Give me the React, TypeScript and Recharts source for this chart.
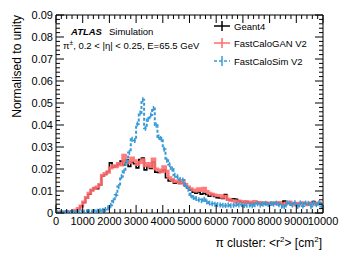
import React from "react";
import { ComposedChart, Line, XAxis, YAxis } from "recharts";

const FONT = "'Liberation Sans', Arial, Helvetica, sans-serif";
const BLACK = "#000000";
const RED = "#ff6b6b";
const BLUE = "#3a9ad6";

// bin centres, 100 bins of 100 cm^2 from 0 to 10000
const binCentres = Array.from({ length: 100 }, (_, i) => i * 100 + 50);

// Geant4
const geant4 = [
  0.0002, 0.0003, 0.0003, 0.0004, 0.0004, 0.0005, 0.0006, 0.0009, 0.0016, 0.003,
  0.0048, 0.0068, 0.0085, 0.0103, 0.0115, 0.011, 0.0128, 0.0168, 0.0175, 0.0188,
  0.0228, 0.0208, 0.0215, 0.0222, 0.0236, 0.0218, 0.0242, 0.0212, 0.0232, 0.0224,
  0.0205, 0.0243, 0.025, 0.0196, 0.0212, 0.0202, 0.0232, 0.0186, 0.0184, 0.019,
  0.0196, 0.016, 0.0146, 0.015, 0.0136, 0.014, 0.0134, 0.0135, 0.0124, 0.0114,
  0.0104, 0.0095, 0.009, 0.0094, 0.0086, 0.009, 0.0084, 0.0076, 0.0084, 0.0075,
  0.007, 0.0068, 0.0066, 0.0084, 0.006, 0.0058, 0.0064, 0.0062, 0.0055, 0.005,
  0.0048, 0.0052, 0.0046, 0.0048, 0.0044, 0.0047, 0.0043, 0.0046, 0.0045, 0.0042,
  0.0044, 0.0048, 0.0042, 0.0045, 0.004, 0.0054, 0.0044, 0.0046, 0.0042, 0.0045,
  0.0041, 0.0044, 0.0046, 0.0042, 0.004, 0.0044, 0.0052, 0.0045, 0.0042, 0.0046,
];

// FastCaloGAN V2
const fastCaloGan = [
  0.0002, 0.0003, 0.0003, 0.0004, 0.0005, 0.0006, 0.0008, 0.0012, 0.002, 0.0032,
  0.005, 0.007, 0.009, 0.0105, 0.0112, 0.0118, 0.013, 0.0172, 0.018, 0.0185,
  0.0205, 0.0215, 0.021, 0.0225, 0.0218, 0.0262, 0.0235, 0.0228, 0.025, 0.0238,
  0.022, 0.023, 0.0242, 0.0215, 0.0225, 0.021, 0.0246, 0.02, 0.0195, 0.0188,
  0.021, 0.019, 0.016, 0.0152, 0.0142, 0.0145, 0.0138, 0.0148, 0.013, 0.0118,
  0.011, 0.0105, 0.01, 0.011, 0.0102, 0.0112, 0.0098, 0.009, 0.0085, 0.0082,
  0.008, 0.0078, 0.0072, 0.0076, 0.0062, 0.0058, 0.0056, 0.005, 0.0055, 0.005,
  0.0052, 0.0048, 0.005, 0.0046, 0.0052, 0.0045, 0.0048, 0.0042, 0.0047, 0.0044,
  0.004, 0.0046, 0.0043, 0.0048, 0.0042, 0.0038, 0.0045, 0.005, 0.0042, 0.0036,
  0.0044, 0.004, 0.0047, 0.0042, 0.0038, 0.0045, 0.004, 0.0046, 0.0043, 0.0045,
];

// FastCaloSim V2
const fastCaloSim = [
  0.0001, 0.0001, 0.0001, 0.0002, 0.0002, 0.0002, 0.0003, 0.0003, 0.0003, 0.0004,
  0.0004, 0.0005, 0.0005, 0.0006, 0.0007, 0.0008, 0.001, 0.0012, 0.0016, 0.0024,
  0.0035, 0.0055, 0.0082, 0.012, 0.0165, 0.019, 0.0235, 0.0275, 0.0335, 0.033,
  0.0405, 0.0455, 0.0515, 0.0385, 0.0425, 0.0445, 0.0475, 0.04, 0.0345, 0.0335,
  0.029, 0.024, 0.022, 0.02, 0.0172, 0.0165, 0.0152, 0.015, 0.0128, 0.0108,
  0.0082, 0.007, 0.0066, 0.006, 0.0056, 0.0062, 0.005, 0.0045, 0.0042, 0.004,
  0.0038, 0.0036, 0.0035, 0.0034, 0.0036, 0.0033, 0.0035, 0.004, 0.0036, 0.0038,
  0.0034, 0.0035, 0.0036, 0.0033, 0.0038, 0.0042, 0.0036, 0.004, 0.0044, 0.0039,
  0.0043, 0.004, 0.0045, 0.0037, 0.003, 0.0028, 0.0046, 0.0044, 0.0036, 0.0047,
  0.003, 0.0046, 0.0032, 0.0045, 0.0044, 0.003, 0.0046, 0.0038, 0.0047, 0.003,
];

const xMajorTicks = [0, 1000, 2000, 3000, 4000, 5000, 6000, 7000, 8000, 9000, 10000];
const xTicks = Array.from({ length: 51 }, (_, i) => i * 200);
const yMajorTicks = [0, 0.01, 0.02, 0.03, 0.04, 0.05, 0.06, 0.07, 0.08, 0.09];
const yTicks = Array.from({ length: 46 }, (_, i) => +(i * 0.002).toFixed(3));

const data = binCentres.map((x, i) => ({
  x,
  g4: geant4[i],
  gan: fastCaloGan[i],
  fcs: fastCaloSim[i],
}));

const isMajorX = (v: number) => xMajorTicks.includes(v);
const isMajorY = (v: number) => yMajorTicks.some((t) => Math.abs(t - v) < 1e-9);

const MAJOR = 8;
const MINOR = 4;
const TICK_FONT = 11;

const BottomTick = ({ x, y, payload }: any) => {
  const major = isMajorX(payload.value);
  return (
    <g>
      <line x1={x} x2={x} y1={y} y2={y - (major ? MAJOR : MINOR)} stroke={BLACK} />
      {major && (
        <text x={x} y={y + 12} textAnchor="middle" fontSize={TICK_FONT} fontFamily={FONT} fill={BLACK}>
          {payload.value}
        </text>
      )}
    </g>
  );
};

const TopTick = ({ x, y, payload }: any) => {
  const major = isMajorX(payload.value);
  return <line x1={x} x2={x} y1={y} y2={y + (major ? MAJOR : MINOR)} stroke={BLACK} />;
};

const LeftTick = ({ x, y, payload }: any) => {
  const v = payload.value;
  const major = isMajorY(v);
  return (
    <g>
      <line x1={x} x2={x + (major ? MAJOR : MINOR)} y1={y} y2={y} stroke={BLACK} />
      {major && (
        <text x={x - 3} y={y + 4} textAnchor="end" fontSize={TICK_FONT} fontFamily={FONT} fill={BLACK}>
          {v === 0 ? "0" : v.toFixed(2)}
        </text>
      )}
    </g>
  );
};

const RightTick = ({ x, y, payload }: any) => {
  const major = isMajorY(payload.value);
  return <line x1={x} x2={x - (major ? MAJOR : MINOR)} y1={y} y2={y} stroke={BLACK} />;
};

const SimDot = ({ cx, cy, index }: any) => (
  <line key={index} x1={cx} x2={cx} y1={cy - 2.5} y2={cy + 2.5} stroke={BLUE} strokeWidth={1.5} />
);

export default function App() {
  return (
    <div style={{ position: "relative", width: 349, height: 254, background: "#fff" }}>
      <style>{`body{margin:0}`}</style>
      <ComposedChart width={349} height={254} data={data} margin={{ top: 0, right: 0, bottom: 0, left: 0 }}>
        <XAxis
          xAxisId="x"
          dataKey="x"
          type="number"
          domain={[0, 10000]}
          allowDataOverflow
          ticks={xTicks}
          interval={0}
          tick={<BottomTick />}
          tickLine={false}
          tickSize={0}
          tickMargin={0}
          height={41}
          axisLine={{ stroke: BLACK }}
        />
        <XAxis
          xAxisId="top"
          orientation="top"
          dataKey="x"
          type="number"
          domain={[0, 10000]}
          allowDataOverflow
          ticks={xTicks}
          interval={0}
          tick={<TopTick />}
          tickLine={false}
          tickSize={0}
          tickMargin={0}
          height={15}
          axisLine={{ stroke: BLACK }}
        />
        <YAxis
          yAxisId="y"
          type="number"
          domain={[0, 0.09]}
          allowDataOverflow
          ticks={yTicks}
          interval={0}
          tick={<LeftTick />}
          tickLine={false}
          tickSize={0}
          tickMargin={0}
          width={56}
          axisLine={{ stroke: BLACK }}
        />
        <YAxis
          yAxisId="right"
          orientation="right"
          type="number"
          domain={[0, 0.09]}
          allowDataOverflow
          ticks={yTicks}
          interval={0}
          tick={<RightTick />}
          tickLine={false}
          tickSize={0}
          tickMargin={0}
          width={26}
          axisLine={{ stroke: BLACK }}
        />
        <Line
          xAxisId="x"
          yAxisId="y"
          dataKey="g4"
          type="step"
          stroke={BLACK}
          strokeWidth={1.6}
          dot={false}
          isAnimationActive={false}
        />
        <Line
          xAxisId="x"
          yAxisId="y"
          dataKey="gan"
          type="step"
          stroke={RED}
          strokeOpacity={0.9}
          strokeWidth={3}
          dot={false}
          isAnimationActive={false}
        />
        <Line
          xAxisId="x"
          yAxisId="y"
          dataKey="fcs"
          type="step"
          stroke={BLUE}
          strokeWidth={2}
          strokeDasharray="3 2"
          dot={<SimDot />}
          isAnimationActive={false}
        />
      </ComposedChart>
      <svg
        width={349}
        height={254}
        style={{ position: "absolute", left: 0, top: 0, pointerEvents: "none" }}
        fontFamily={FONT}
      >
        <text transform="rotate(-90)" x={-15} y={21} textAnchor="end" fontSize={12}>
          Normalised to unity
        </text>
        <text x={322} y={247} textAnchor="end" fontSize={12}>
          π cluster: &lt;r<tspan fontSize={8} dy={-5}>2</tspan>
          <tspan dy={5}>&gt; [cm</tspan>
          <tspan fontSize={8} dy={-5}>2</tspan>
          <tspan dy={5}>]</tspan>
        </text>
        <text x={71} y={35} fontSize={9.5} fontWeight="bold" fontStyle="italic">
          ATLAS
        </text>
        <text x={109} y={35} fontSize={9.5}>
          Simulation
        </text>
        <text x={63} y={49} fontSize={9.5}>
          π<tspan fontSize={6.5} dy={-4}>±</tspan>
          <tspan dy={4}>, 0.2 &lt; |η| &lt; 0.25, E=65.5 GeV</tspan>
        </text>
        {/* legend */}
        <line x1={214} x2={230} y1={26} y2={26} stroke={BLACK} strokeWidth={1.5} />
        <line x1={222} x2={222} y1={21} y2={31} stroke={BLACK} strokeWidth={1.5} />
        <text x={234} y={29.5} fontSize={9.5}>Geant4</text>
        <line x1={214} x2={230} y1={43} y2={43} stroke={RED} strokeWidth={1.5} />
        <line x1={222} x2={222} y1={38} y2={48} stroke={RED} strokeWidth={1.5} />
        <text x={234} y={46.5} fontSize={9.5}>FastCaloGAN V2</text>
        <line x1={214} x2={230} y1={61} y2={61} stroke={BLUE} strokeWidth={1.5} strokeDasharray="3 2" />
        <line x1={222} x2={222} y1={56} y2={66} stroke={BLUE} strokeWidth={1.5} />
        <text x={234} y={64.5} fontSize={9.5}>FastCaloSim V2</text>
      </svg>
    </div>
  );
}
